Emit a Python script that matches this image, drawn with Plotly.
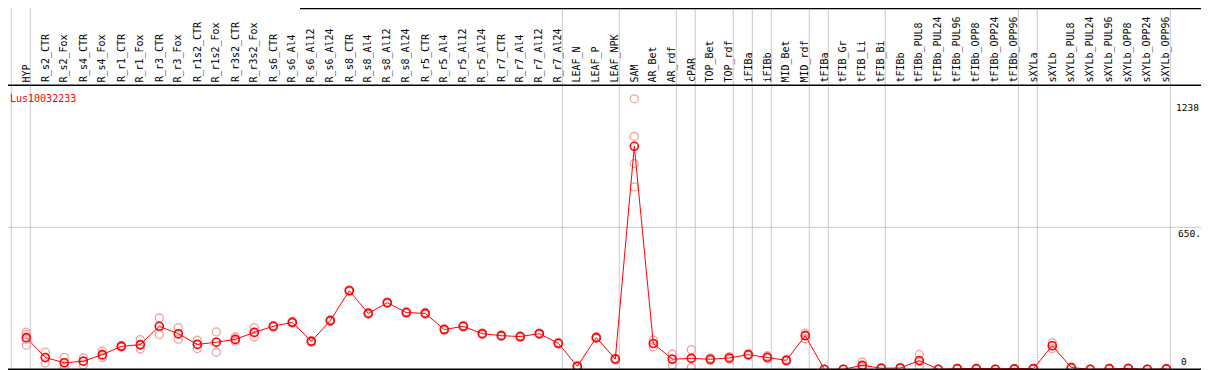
import plotly.graph_objects as go

# ---------------- data ----------------
gene = "Lus10032233"

labels = [
    "HYP", "R_s2_CTR", "R_s2_Fox", "R_s4_CTR", "R_s4_Fox", "R_r1_CTR", "R_r1_Fox",
    "R_r3_CTR", "R_r3_Fox", "R_r1s2_CTR", "R_r1s2_Fox", "R_r3s2_CTR", "R_r3s2_Fox",
    "R_s6_CTR", "R_s6_Al4", "R_s6_Al12", "R_s6_Al24", "R_s8_CTR", "R_s8_Al4",
    "R_s8_Al12", "R_s8_Al24", "R_r5_CTR", "R_r5_Al4", "R_r5_Al12", "R_r5_Al24",
    "R_r7_CTR", "R_r7_Al4", "R_r7_Al12", "R_r7_Al24", "LEAF_N", "LEAF_P", "LEAF_NPK",
    "SAM", "AR_Bet", "AR_rdf", "cPAR", "TOP_Bet", "TOP_rdf", "iFIBa", "iFIBb",
    "MID_Bet", "MID_rdf", "tFIBa", "tFIB_Gr", "tFIB_Li", "tFIB_Bi", "tFIBb",
    "tFIBb_PUL8", "tFIBb_PUL24", "tFIBb_PUL96", "tFIBb_OPP8", "tFIBb_OPP24",
    "tFIBb_OPP96", "sXYLa", "sXYLb", "sXYLb_PUL8", "sXYLb_PUL24", "sXYLb_PUL96",
    "sXYLb_OPP8", "sXYLb_OPP24", "sXYLb_OPP96",
]

means = [
    145, 54, 30, 37, 67, 105, 113, 197, 163, 114, 124, 137, 169,
    197, 215, 128, 223, 360, 256, 305, 260, 256, 182, 197, 163,
    154, 150, 163, 119, 14, 145, 47,
    1021, 118, 46, 50, 46, 52, 67, 55, 41, 154,
    0, 0, 18, 5, 6, 40, 0, 3, 3, 0, 2,
    3, 108, 8, 0, 3, 4, 0, 2,
]

replicates = [
    [170, 160, 137, 110], [79, 54, 29], [55, 29, 8], [52, 38, 20], [84, 62, 54],
    [110, 103, 102], [136, 110, 93], [235, 197, 159], [191, 160, 138],
    [133, 114, 95], [171, 124, 78], [148, 135, 128], [191, 169, 148],
    [201, 197, 193], [219, 215, 211], [132, 128, 124], [227, 223, 219],
    [364, 360, 356], [260, 256, 252], [309, 305, 301], [264, 260, 256],
    [260, 256, 252], [186, 182, 178], [201, 197, 193], [167, 163, 159],
    [158, 154, 150], [154, 150, 146], [167, 163, 159], [123, 119, 115],
    [17, 14, 11], [149, 145, 141], [51, 47, 43],
    [1238.5, 1067, 942, 835], [133, 118, 103], [69, 48, 21], [90, 52, 8],
    [52, 46, 40], [58, 52, 46], [71, 67, 63], [62, 55, 48], [45, 41, 37],
    [166, 156, 140],
    [0, 0, 0], [0, 0, 0], [33, 14, 7], [7, 5, 3], [8, 6, 4], [68, 36, 16],
    [0, 0, 0], [4, 3, 2], [4, 3, 2], [0, 0, 0], [3, 2, 1],
    [4, 3, 2], [121, 108, 95], [10, 8, 6], [0, 0, 0], [4, 3, 2], [5, 4, 3],
    [0, 0, 0], [3, 2, 1],
]

# number of samples in each tissue group (gray separators between groups)
group_sizes = [1, 28, 3, 3, 1, 2, 1, 1, 2, 1, 3, 7, 1, 7]

# ---------------- layout geometry ----------------
# the page body adds an 8px margin, so the figure is sized/offset to compensate
PAGE_OFF = 8
W, H = 1209 - PAGE_OFF, 370 - PAGE_OFF
PX_PER_COL = 19.0
FIRST_COL_PX = 26.3 - PAGE_OFF
ZERO_PX = 369.3 - PAGE_OFF
TOP_PX = 85.3 - PAGE_OFF


def px(xs):
    return (xs - PAGE_OFF) / W


def py(ys):
    return 1 - (ys - PAGE_OFF) / H


max_value = max(max(r) for r in replicates)
axis_top = max_value * 1.05

xmin = 1 - FIRST_COL_PX / PX_PER_COL
xmax = xmin + W / PX_PER_COL
scale = (ZERO_PX - TOP_PX) / axis_top
ymin = -(H - ZERO_PX) / scale
ymax = axis_top + TOP_PX / scale

x_cols = list(range(1, len(labels) + 1))

RED = "#ff0000"
PINK = "#f2a0a0"
GRAY = "#c8c8c8"
FONT = "DejaVu Sans Mono"

fig = go.Figure()

rep_x, rep_y = [], []
for i, reps in enumerate(replicates):
    for v in reps:
        rep_x.append(x_cols[i])
        rep_y.append(v)

fig.add_trace(go.Scatter(
    x=rep_x, y=rep_y, mode="markers",
    marker=dict(symbol="circle-open", size=8, color=PINK, line=dict(width=1.3, color=PINK)),
    hoverinfo="skip", showlegend=False,
))
fig.add_trace(go.Scatter(
    x=x_cols, y=means, mode="lines+markers",
    line=dict(color=RED, width=1),
    marker=dict(symbol="circle-open", size=8, color=RED, line=dict(width=1.6, color=RED)),
    showlegend=False, name=gene,
))

shapes = []
# gray group separators
b = 0
bounds = [0]
for g in group_sizes:
    b += g
    bounds.append(b)
for b in bounds:
    shapes.append(dict(type="line", xref="x", yref="paper",
                       x0=b + 4 / PX_PER_COL, x1=b + 4 / PX_PER_COL, y0=0, y1=1,
                       line=dict(color=GRAY, width=1), layer="below"))
# gray mid gridline
shapes.append(dict(type="line", xref="paper", yref="y", x0=0, x1=px(1207),
                   y0=axis_top / 2, y1=axis_top / 2,
                   line=dict(color=GRAY, width=1), layer="below"))
# black frame lines
shapes.append(dict(type="line", xref="paper", yref="y", x0=0, x1=px(1207.5),
                   y0=axis_top, y1=axis_top, line=dict(color="black", width=1.5), layer="above"))
shapes.append(dict(type="line", xref="paper", yref="y", x0=0, x1=px(1207.5),
                   y0=0, y1=0, line=dict(color="black", width=1.5), layer="above"))
shapes.append(dict(type="line", xref="paper", yref="paper", x0=px(1207.5), x1=px(1207.5),
                   y0=0, y1=1, line=dict(color="black", width=1.5), layer="above"))
shapes.append(dict(type="line", xref="paper", yref="paper", x0=px(300), x1=px(1207.5),
                   y0=py(8.6), y1=py(8.6), line=dict(color="black", width=1.5), layer="above"))

annotations = []
for xc, lab in zip(x_cols, labels):
    annotations.append(dict(x=xc, y=axis_top, xref="x", yref="y", text=lab,
                            textangle=-90, xanchor="center", yanchor="bottom",
                            yshift=2, showarrow=False, borderpad=0,
                            font=dict(family=FONT, size=10, color="black")))

annotations.append(dict(x=px(9), y=py(98), xref="paper", yref="paper", text=gene,
                        xanchor="left", yanchor="middle", showarrow=False, borderpad=0,
                        font=dict(family=FONT, size=10, color=RED)))
annotations.append(dict(x=px(1206), y=max_value, xref="paper", yref="y",
                        text=f"{max_value:.1f}"[:5], xanchor="right", yanchor="top",
                        yshift=-2, showarrow=False, borderpad=0,
                        font=dict(family=FONT, size=9.5, color="black")))
annotations.append(dict(x=px(1208), y=axis_top / 2, xref="paper", yref="y",
                        text=f"{axis_top / 2:.1f}", xanchor="right", yanchor="top",
                        yshift=0, showarrow=False, borderpad=0,
                        font=dict(family=FONT, size=9.5, color="black")))
annotations.append(dict(x=px(1180), y=0, xref="paper", yref="y",
                        text="0", xanchor="left", yanchor="bottom",
                        yshift=1, showarrow=False, borderpad=0,
                        font=dict(family=FONT, size=9.5, color="black")))

fig.update_layout(
    width=W, height=H,
    margin=dict(l=0, r=0, t=0, b=0),
    paper_bgcolor="white", plot_bgcolor="white",
    xaxis=dict(range=[xmin, xmax], visible=False, fixedrange=True),
    yaxis=dict(range=[ymin, ymax], visible=False, fixedrange=True),
    shapes=shapes, annotations=annotations,
    showlegend=False,
)

fig.write_html("out.html")
